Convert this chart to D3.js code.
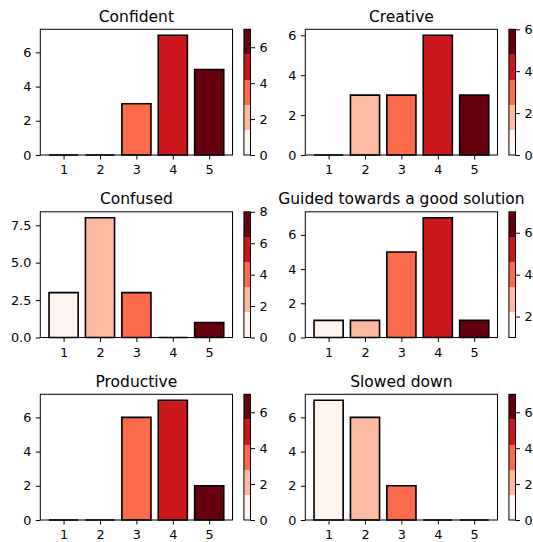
<!DOCTYPE html>
<html lang="en">
<head>
<meta charset="UTF-8">
<title>Survey ratings</title>
<style>
    body { margin: 0; background: #fff; }
    svg { display: block; font-family: "DejaVu Sans", sans-serif; }
    .tick text { fill: #000; }
</style>
</head>
<body>
<svg></svg>
<script src="https://cdn.jsdelivr.net/npm/d3@7"></script>
<script>
// DATA
const categories = [1, 2, 3, 4, 5];
const titles = ["Confident", "Creative", "Confused", "Guided towards a good solution", "Productive", "Slowed down"];
const confident = [0, 0, 3, 7, 5];
const creative = [0, 3, 3, 6, 3];
const confused = [3, 8, 3, 0, 1];
const guided = [1, 1, 5, 7, 1];
const productive = [0, 0, 6, 7, 2];
const slowedDown = [7, 6, 2, 0, 0];
const seriesList = [confident, creative, confused, guided, productive, slowedDown];

// y-axis ticks of each panel
const yTicks = [[0, 2, 4, 6], [0, 2, 4, 6], [0, 2.5, 5, 7.5], [0, 2, 4, 6], [0, 2, 4, 6], [0, 2, 4, 6]];
const yFormats = ["d", "d", ".1f", "d", "d", "d"];
// colorbar ticks of each panel
const cbTicks = [[0, 2, 4, 6], [0, 2, 4, 6], [0, 2, 4, 6, 8], [2, 4, 6], [0, 2, 4, 6], [0, 2, 4, 6]];

// five shades of the Reds scheme, one per category
const reds = d3.schemeReds[9].filter((c, i) => i % 2 === 0);

// LAYOUT
const W = 533, H = 542;
const colX = [40.3, 305.3];
const rowY = [29.3, 211.8, 394.3];
const axW = 192.2, axH = 125.7;
const cbGap = 11.4, cbW = 6.6;
const tickLen = 4.5, tickPad = 4.5;
const tickFont = 12.8, titleFont = 15.5;

const svg = d3.select("svg").attr("width", W).attr("height", H);
svg.append("rect").attr("width", W).attr("height", H).attr("fill", "#fff");

seriesList.forEach((values, idx) => {
    const x0 = colX[idx % 2], y0 = rowY[Math.floor(idx / 2)];
    const g = svg.append("g").attr("transform", `translate(${x0},${y0})`);

    const vmax = d3.max(values);
    const xScale = d3.scaleLinear().domain([0.36, 5.64]).range([0, axW]);
    const yScale = d3.scaleLinear().domain([0, vmax * 1.05]).range([axH, 0]);

    // bars (paths so that zero-height bars still show their edge)
    const bw = xScale(1.4) - xScale(0.6);
    g.selectAll("path.bar")
        .data(values)
        .join("path")
        .attr("class", "bar")
        .attr("d", (d, i) => {
            const bx = xScale(categories[i] - 0.4), by = yScale(d);
            return `M${bx},${axH}V${by}H${bx + bw}V${axH}Z`;
        })
        .attr("fill", (d, i) => reds[i])
        .attr("stroke", "#000")
        .attr("stroke-width", 1.6)
        .attr("stroke-linejoin", "miter");

    // spines
    g.append("rect")
        .attr("width", axW).attr("height", axH)
        .attr("fill", "none").attr("stroke", "#000").attr("stroke-width", 1);

    // axes
    const xAxis = g.append("g")
        .attr("transform", `translate(0,${axH})`)
        .call(d3.axisBottom(xScale).tickValues(categories).tickFormat(d3.format("d"))
            .tickSize(tickLen).tickPadding(tickPad + 1).tickSizeOuter(0));
    const yAxis = g.append("g")
        .call(d3.axisLeft(yScale).tickValues(yTicks[idx]).tickFormat(d3.format(yFormats[idx]))
            .tickSize(tickLen).tickPadding(tickPad).tickSizeOuter(0));
    [xAxis, yAxis].forEach(a => {
        a.select(".domain").remove();
        a.selectAll("line").attr("stroke", "#000");
        a.selectAll("text").attr("font-size", tickFont).attr("font-family", "DejaVu Sans");
    });

    // title
    g.append("text")
        .attr("x", axW / 2).attr("y", -7.7)
        .attr("text-anchor", "middle")
        .attr("font-size", titleFont)
        .text(titles[idx]);

    // COLORBAR
    const vmin = d3.min(values);
    const cb = g.append("g").attr("transform", `translate(${axW + cbGap},0)`);
    const cScale = d3.scaleLinear().domain([vmin, vmax]).range([axH, 0]);
    const step = (vmax - vmin) / reds.length;
    cb.selectAll("rect.seg")
        .data(reds)
        .join("rect")
        .attr("class", "seg")
        .attr("x", 0).attr("width", cbW)
        .attr("y", (c, i) => cScale(vmin + (i + 1) * step))
        .attr("height", (c, i) => cScale(vmin + i * step) - cScale(vmin + (i + 1) * step))
        .attr("fill", c => c)
        .attr("shape-rendering", "crispEdges");
    cb.append("rect")
        .attr("width", cbW).attr("height", axH)
        .attr("fill", "none").attr("stroke", "#000").attr("stroke-width", 1);
    const cAxis = cb.append("g")
        .attr("transform", `translate(${cbW},0)`)
        .call(d3.axisRight(cScale).tickValues(cbTicks[idx]).tickFormat(d3.format("d"))
            .tickSize(tickLen).tickPadding(tickPad).tickSizeOuter(0));
    cAxis.select(".domain").remove();
    cAxis.selectAll("line").attr("stroke", "#000");
    cAxis.selectAll("text").attr("font-size", tickFont).attr("font-family", "DejaVu Sans");
});
</script>
</body>
</html>
